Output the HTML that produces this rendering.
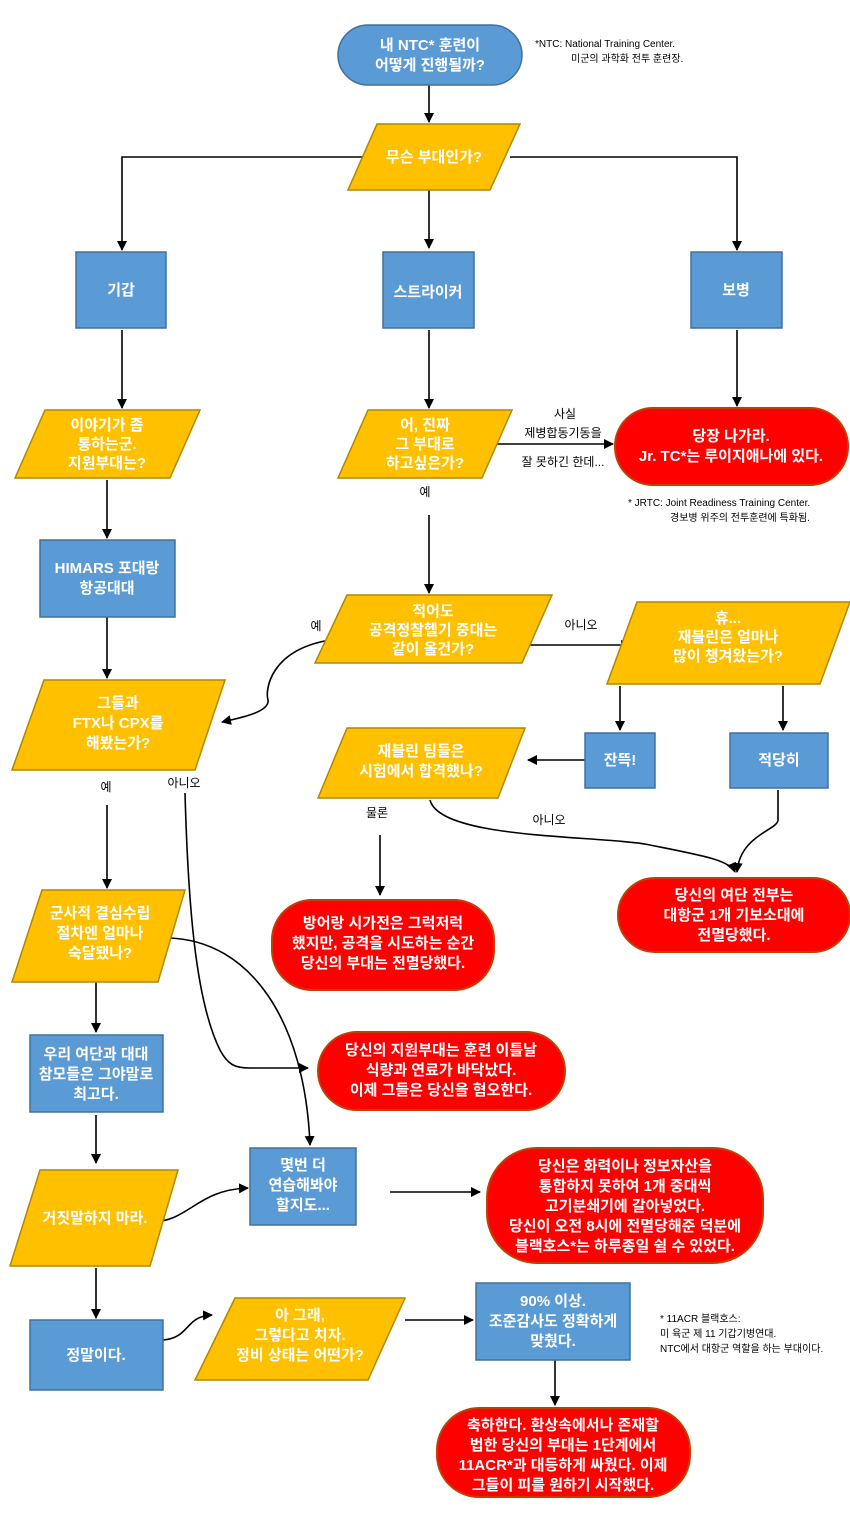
<!DOCTYPE html>
<html><head><meta charset="utf-8"><style>
html,body{margin:0;padding:0;background:#fff;}
svg{display:block;}
.t{font-family:"Liberation Sans","Noto Sans CJK KR",sans-serif;font-weight:bold;font-size:15px;fill:#fff;text-anchor:middle;}
.l{font-family:"Liberation Sans","Noto Sans CJK KR",sans-serif;font-size:12px;fill:#000;text-anchor:middle;}
.n{font-family:"Liberation Sans","Noto Sans CJK KR",sans-serif;font-size:10px;fill:#000;}
.b{fill:#5b9bd5;stroke:#41719c;stroke-width:1.5;}
.y{fill:#ffc000;stroke:#b08800;stroke-width:1.5;}
.r{fill:#ff0000;stroke:#c04000;stroke-width:2;}
.c{fill:none;stroke:#000;stroke-width:1.6;}
</style></head><body>
<svg width="850" height="1517" viewBox="0 0 850 1517" xmlns="http://www.w3.org/2000/svg">
<defs><marker id="a" markerWidth="10" markerHeight="10" refX="9" refY="5" orient="auto" markerUnits="userSpaceOnUse"><path d="M0,0 L10,5 L0,10 z" fill="#000"/></marker></defs>

<g class="c" marker-end="url(#a)">
<path d="M429,85 V122"/>
<path d="M368,157 H122 V250"/>
<path d="M510,157 H737 V250"/>
<path d="M429,190 V248"/>
<path d="M122,330 V408"/>
<path d="M429,330 V408"/>
<path d="M737,330 V406"/>
<path d="M484,444 H613"/>
<path d="M107,480 V538"/>
<path d="M429,515 V593"/>
<path d="M525,645 H630"/>
<path d="M107,617 V678"/>
<path d="M330,640 C270,650 265,690 268,700 C270,712 240,718 222,722"/>
<path d="M620,686 V730"/>
<path d="M783,686 V730"/>
<path d="M585,760 H528"/>
<path d="M430,800 C440,840 600,835 650,845 C700,855 730,860 735,872"/>
<path d="M778,790 V820 C778,830 740,835 737,872"/>
<path d="M380,835 V895"/>
<path d="M107,805 V888"/>
<path d="M185,793 C188,900 195,1000 220,1050 C228,1065 235,1068 250,1068 H308"/>
<path d="M168,938 C250,940 305,1020 310,1145"/>
<path d="M96,982 V1032"/>
<path d="M96,1115 V1163"/>
<path d="M150,1222 C190,1222 195,1190 248,1188"/>
<path d="M390,1192 H480"/>
<path d="M96,1268 V1318"/>
<path d="M163,1340 C190,1338 185,1316 212,1315"/>
<path d="M405,1320 H473"/>
<path d="M555,1360 V1405"/>
</g>

<rect class="b" x="338" y="25" width="184" height="60" rx="30"/>
<polygon class="y" points="377,124 520,124 490,190 348,190"/>
<rect class="b" x="76" y="252" width="90" height="76"/>
<rect class="b" x="383" y="252" width="91" height="76"/>
<rect class="b" x="691" y="252" width="91" height="76"/>
<polygon class="y" points="45,410 200,410 170,478 15,478"/>
<polygon class="y" points="368,410 512,410 482,478 338,478"/>
<rect class="r" x="615" y="408" width="233" height="77" rx="38"/>
<rect class="b" x="40" y="540" width="135" height="77"/>
<polygon class="y" points="347,595 552,595 522,663 315,663"/>
<polygon class="y" points="637,602 850,602 820,684 607,684"/>
<polygon class="y" points="44,680 225,680 195,770 12,770"/>
<rect class="b" x="585" y="733" width="70" height="55"/>
<rect class="b" x="730" y="733" width="98" height="55"/>
<polygon class="y" points="347,728 525,728 498,798 318,798"/>
<rect class="r" x="618" y="878" width="232" height="74" rx="37"/>
<rect class="r" x="272" y="900" width="222" height="90" rx="40"/>
<polygon class="y" points="42,890 185,890 158,982 12,982"/>
<rect class="r" x="318" y="1032" width="247" height="78" rx="39"/>
<rect class="b" x="30" y="1035" width="133" height="77"/>
<polygon class="y" points="40,1170 178,1170 150,1266 10,1266"/>
<rect class="b" x="250" y="1148" width="106" height="77"/>
<rect class="r" x="487" y="1148" width="276" height="115" rx="50"/>
<rect class="b" x="30" y="1320" width="133" height="70"/>
<polygon class="y" points="235,1298 405,1298 368,1380 195,1380"/>
<rect class="b" x="476" y="1283" width="154" height="77"/>
<rect class="r" x="437" y="1408" width="253" height="89" rx="42"/>

<text class="t" x="430" y="50">내 NTC* 훈련이<tspan x="430" dy="20">어떻게 진행될까?</tspan></text>
<text class="t" x="434" y="162">무슨 부대인가?</text>
<text class="t" x="121" y="295">기갑</text>
<text class="t" x="428" y="297">스트라이커</text>
<text class="t" x="736" y="295">보병</text>
<text class="t" x="107" y="430">이야기가 좀<tspan x="107" dy="19">통하는군.</tspan><tspan x="107" dy="19">지원부대는?</tspan></text>
<text class="t" x="425" y="430">어, 진짜<tspan x="425" dy="19">그 부대로</tspan><tspan x="425" dy="19">하고싶은가?</tspan></text>
<text class="t" x="731" y="441">당장 나가라.<tspan x="731" dy="20">Jr. TC*는 루이지애나에 있다.</tspan></text>
<text class="t" x="107" y="573">HIMARS 포대랑<tspan x="107" dy="20">항공대대</tspan></text>
<text class="t" x="433" y="616">적어도<tspan x="433" dy="19">공격정찰헬기 중대는</tspan><tspan x="433" dy="19">같이 올건가?</tspan></text>
<text class="t" x="728" y="623">휴...<tspan x="728" dy="19">재블린은 얼마나</tspan><tspan x="728" dy="19">많이 챙겨왔는가?</tspan></text>
<text class="t" x="118" y="708">그들과<tspan x="118" dy="20">FTX나 CPX를</tspan><tspan x="118" dy="20">해봤는가?</tspan></text>
<text class="t" x="620" y="765">잔뜩!</text>
<text class="t" x="779" y="765">적당히</text>
<text class="t" x="421" y="756">재블린 팀들은<tspan x="421" dy="20">시험에서 합격했나?</tspan></text>
<text class="t" x="734" y="900">당신의 여단 전부는<tspan x="734" dy="20">대항군 1개 기보소대에</tspan><tspan x="734" dy="20">전멸당했다.</tspan></text>
<text class="t" x="383" y="928">방어랑 시가전은 그럭저럭<tspan x="383" dy="20">했지만, 공격을 시도하는 순간</tspan><tspan x="383" dy="20">당신의 부대는 전멸당했다.</tspan></text>
<text class="t" x="100" y="918">군사적 결심수립<tspan x="100" dy="20">절차엔 얼마나</tspan><tspan x="100" dy="20">숙달됐나?</tspan></text>
<text class="t" x="441" y="1055">당신의 지원부대는 훈련 이틀날<tspan x="441" dy="20">식량과 연료가 바닥났다.</tspan><tspan x="441" dy="20">이제 그들은 당신을 혐오한다.</tspan></text>
<text class="t" x="96" y="1059">우리 여단과 대대<tspan x="96" dy="20">참모들은 그야말로</tspan><tspan x="96" dy="20">최고다.</tspan></text>
<text class="t" x="95" y="1223">거짓말하지 마라.</text>
<text class="t" x="303" y="1170">몇번 더<tspan x="303" dy="20">연습해봐야</tspan><tspan x="303" dy="20">할지도...</tspan></text>
<text class="t" x="625" y="1171">당신은 화력이나 정보자산을<tspan x="625" dy="20">통합하지 못하여 1개 중대씩</tspan><tspan x="625" dy="20">고기분쇄기에 갈아넣었다.</tspan><tspan x="625" dy="20">당신이 오전 8시에 전멸당해준 덕분에</tspan><tspan x="625" dy="20">블랙호스*는 하루종일 쉴 수 있었다.</tspan></text>
<text class="t" x="96" y="1360">정말이다.</text>
<text class="t" x="300" y="1320">아 그래,<tspan x="300" dy="20">그렇다고 치자.</tspan><tspan x="300" dy="20">정비 상태는 어떤가?</tspan></text>
<text class="t" x="553" y="1306">90% 이상.<tspan x="553" dy="20">조준감사도 정확하게</tspan><tspan x="553" dy="20">맞췄다.</tspan></text>
<text class="t" x="563" y="1430">축하한다. 환상속에서나 존재할<tspan x="563" dy="20">법한 당신의 부대는 1단계에서</tspan><tspan x="563" dy="20">11ACR*과 대등하게 싸웠다. 이제</tspan><tspan x="563" dy="20">그들이 피를 원하기 시작했다.</tspan></text>

<text class="l" x="565" y="418">사실</text>
<text class="l" x="563" y="437">제병합동기동을</text>
<text class="l" x="563" y="466">잘 못하긴 한데...</text>
<text class="l" x="425" y="496">예</text>
<text class="l" x="316" y="630">예</text>
<text class="l" x="581" y="629">아니오</text>
<text class="l" x="106" y="791">예</text>
<text class="l" x="184" y="787">아니오</text>
<text class="l" x="377" y="817">물론</text>
<text class="l" x="549" y="824">아니오</text>

<text class="n" x="535" y="47">*NTC: National Training Center.</text>
<text class="n" x="571" y="62">미군의 과학화 전투 훈련장.</text>
<text class="n" x="628" y="506">* JRTC: Joint Readiness Training Center.</text>
<text class="n" x="670" y="521">경보병 위주의 전투훈련에 특화됨.</text>
<text class="n" x="660" y="1322">* 11ACR 블랙호스:</text>
<text class="n" x="660" y="1337">미 육군 제 11 기갑기병연대.</text>
<text class="n" x="660" y="1352">NTC에서 대항군 역할을 하는 부대이다.</text>
</svg>
</body></html>
